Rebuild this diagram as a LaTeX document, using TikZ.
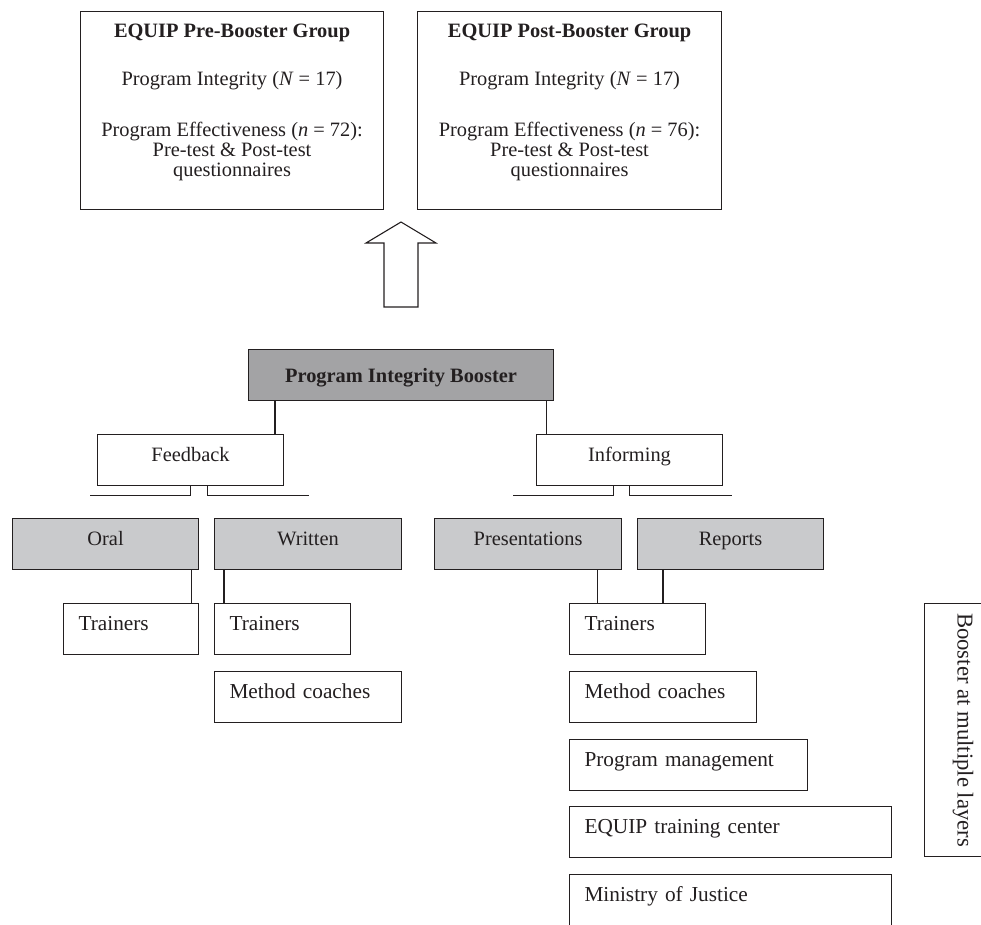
\documentclass[tikz,border=0pt]{standalone}
\usepackage{fontspec}
\setmainfont{Liberation Serif}
\definecolor{inkgray}{RGB}{35,31,32}
\definecolor{boosterfill}{RGB}{163,163,165}
\definecolor{typefill}{RGB}{201,202,204}
\def\uparrowshape{(384,-307) -- (384,-243) -- (366,-243) -- (401,-222) -- (436,-243) -- (418,-243) -- (418,-307) -- cycle}
\def\firstline{\rule{0pt}{26pt}}
\def\lastline{\rule[-33pt]{0pt}{33pt}}
\tikzset{
  groupbox/.style={draw, anchor=north west, align=center, inner ysep=0pt, minimum width=#1, font=\fontsize{20.4}{20}\selectfont},
  headbox/.style={draw, fill=boosterfill, anchor=north west, minimum width=305, inner ysep=0pt, text height=33pt, text depth=18pt, font=\fontsize{20.4}{20}\selectfont\bfseries},
  midbox/.style={draw, fill=#1, anchor=north west, minimum width=186, inner ysep=0pt, text height=27pt, text depth=24pt, font=\fontsize{20.4}{20}\selectfont},
  leafbox/.style={draw, fill=white, anchor=north west, align=left, text width=#1, inner xsep=15pt, inner ysep=0pt, text height=27pt, text depth=24pt, font=\fontsize{21.3}{21}\selectfont},
}
\begin{document}
\begin{tikzpicture}[x=1pt,y=1pt,line width=1.1pt,color=inkgray]
  \useasboundingbox (0,0) rectangle (981,-924);
  \clip (0,0) rectangle (981,-924);

  %groups before and after the booster
  \node[groupbox=303] (pre) at (80,-11) {\firstline\textbf{EQUIP Pre-Booster Group}\\[28pt] Program Integrity (\textit{N} = 17)\\[31pt] Program Effectiveness (\textit{n} = 72):\\ Pre-test \& Post-test\\ questionnaires\lastline};
  \node[groupbox=304] (post) at (417,-11) {\firstline\textbf{EQUIP Post-Booster Group}\\[28pt] Program Integrity (\textit{N} = 17)\\[31pt] Program Effectiveness (\textit{n} = 76):\\ Pre-test \& Post-test\\ questionnaires\lastline};

  \draw \uparrowshape;

  \node[headbox] (pib) at (248,-349) {Program Integrity Booster};

  \node[midbox=white] (fb) at (97,-434) {Feedback};
  \node[midbox=white] (inf) at (536,-434) {Informing};

  \node[midbox=typefill] (oral) at (12,-518) {Oral};
  \node[midbox=typefill, minimum width=187] (wri) at (214,-518) {Written};
  \node[midbox=typefill, minimum width=187] (pres) at (434,-518) {Presentations};
  \node[midbox=typefill] (rep) at (637,-518) {Reports};

  %who gets the booster
  \node[leafbox=105pt] (trO) at (63,-603) {Trainers};
  \node[leafbox=106pt] (trW) at (214,-603) {Trainers};
  \node[leafbox=157pt] (mcW) at (214,-671) {Method coaches};
  \node[leafbox=106pt] (trI) at (569,-603) {Trainers};
  \node[leafbox=157pt] (mcI) at (569,-671) {Method coaches};
  \node[leafbox=208pt] (pm) at (569,-739) {Program management};
  \node[leafbox=292pt] (etc) at (569,-806) {EQUIP training center};
  \node[leafbox=292pt] (moj) at (569,-874) {Ministry of Justice};

  \node[draw, rotate=-90, anchor=south west, minimum width=253, inner ysep=0pt, text height=33pt, text depth=33pt, font=\fontsize{22.7}{22}\selectfont] (layers) at (924,-603) {Booster at multiple layers};

  %tree lines
  \draw ([xshift=27pt]pib.south west) -- ([xshift=27pt]pib.south west |- fb.north);
  \draw ([xshift=-8pt]pib.south east) -- ([xshift=-8pt]pib.south east |- inf.north);
  \draw (fb.south) -- ++(0,-9) -- ++(-101,0);
  \draw ([xshift=17pt]fb.south) -- ++(0,-9) -- ++(101,0);
  \draw ([xshift=-16pt]inf.south) -- ++(0,-9) -- ++(-101,0);
  \draw (inf.south) -- ++(0,-9) -- ++(102,0);
  \draw ([xshift=-8pt]oral.south east) -- ([xshift=-8pt]oral.south east |- trO.north);
  \draw ([xshift=10pt]wri.south west) -- ([xshift=10pt]wri.south west |- trW.north);
  \draw ([xshift=-25pt]pres.south east) -- ([xshift=-25pt]pres.south east |- trI.north);
  \draw ([xshift=26pt]rep.south west) -- ([xshift=26pt]rep.south west |- trI.north);
\end{tikzpicture}
\end{document}
